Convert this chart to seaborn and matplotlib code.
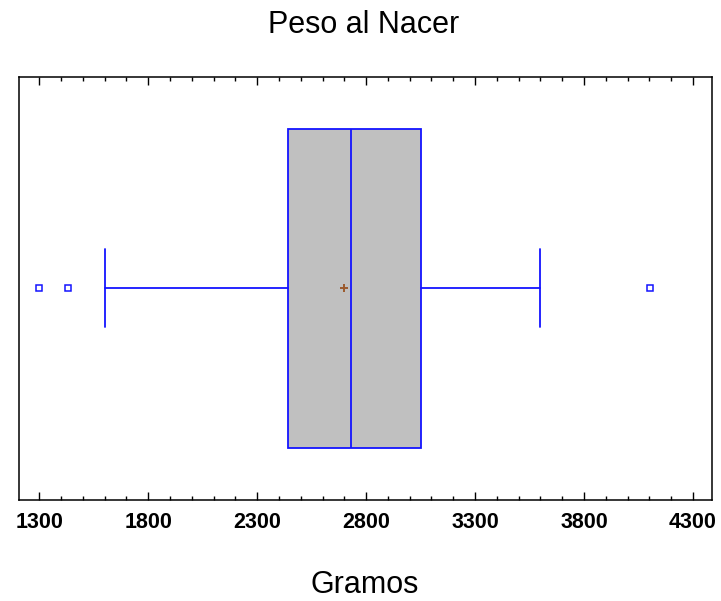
import matplotlib
matplotlib.use("Agg")
import matplotlib.pyplot as plt
import seaborn as sns
from matplotlib.ticker import MultipleLocator, FixedLocator

# ---- data ----
title = "Peso al Nacer"
xlabel = "Gramos"
stat_names = ["whislo", "q1", "med", "q3", "whishi", "mean"]
stat_values = [1600, 2441, 2730, 3052, 3596, 2700]
outliers = [1297, 1430, 4103]
xticks = [1300, 1800, 2300, 2800, 3300, 3800, 4300]

sns.set_style("white")
plt.rcParams['font.family'] = ['Liberation Sans', 'DejaVu Sans']
plt.rcParams['text.color'] = 'black'
plt.rcParams['xtick.color'] = 'black'
plt.rcParams['xtick.labelcolor'] = 'black'
plt.rcParams['axes.labelcolor'] = 'black'

fig = plt.figure(figsize=(7.21, 6.01), dpi=100)
L, R, T, B = 19, 712.3, 77, 499.5
ax = fig.add_axes([L / 721, 1 - B / 601, (R - L) / 721, (B - T) / 601])

blue = "#1414FF"
stats = [dict(zip(stat_names, stat_values), fliers=outliers, label="")]
ax.bxp(stats, positions=[0], widths=0.755, capwidths=0.185,
       orientation="horizontal", showmeans=True, patch_artist=True,
       boxprops=dict(facecolor="#C0C0C0", edgecolor=blue, linewidth=1.3),
       medianprops=dict(color=blue, linewidth=1.3),
       whiskerprops=dict(color=blue, linewidth=1.3),
       capprops=dict(color=blue, linewidth=1.3),
       flierprops=dict(marker="s", markerfacecolor="none", markeredgecolor=blue,
                       markersize=4.3, markeredgewidth=1.1),
       meanprops=dict(marker="+", markeredgecolor="#9C5A2C", markersize=5.5,
                      markeredgewidth=1.4))

ax.set_xlim(1207, 4389)
ax.set_ylim(-0.5, 0.5)
ax.set_yticks([])
ax.xaxis.set_major_locator(FixedLocator(xticks))
ax.xaxis.set_minor_locator(MultipleLocator(100))
ax.set_xticklabels([str(v) for v in xticks], fontsize=15.5, fontweight="bold",
                   color="black")
ax.tick_params(axis="x", which="both", direction="in", bottom=True, top=True,
               color="black", width=1.0, pad=9)
ax.tick_params(axis="x", which="major", length=6)
ax.tick_params(axis="x", which="minor", length=3)
for s in ax.spines.values():
    s.set_color("black")
    s.set_linewidth(1.1)

fig.text(364 / 721, 1 - 33.3 / 601, title, ha="center", va="baseline",
         fontsize=22, color="black")
fig.text(365 / 721, 1 - 593 / 601, xlabel, ha="center", va="baseline",
         fontsize=22, color="black")

fig.savefig("out.png", dpi=100, facecolor="white")
